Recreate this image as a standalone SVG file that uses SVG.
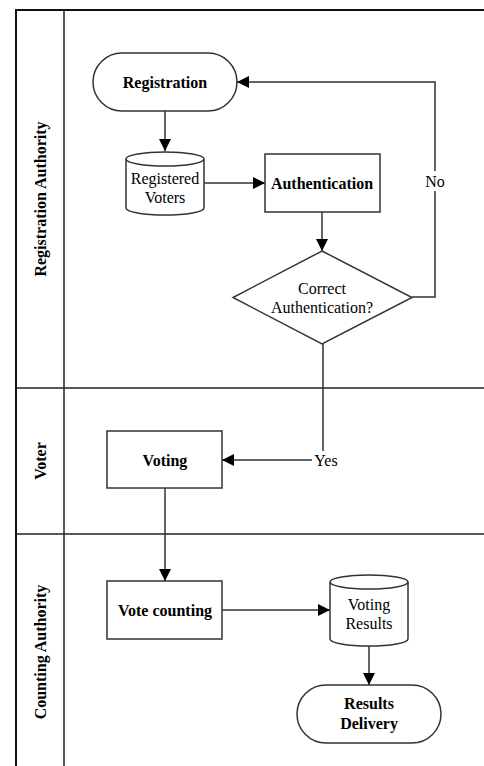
<svg xmlns="http://www.w3.org/2000/svg" width="484" height="766" viewBox="0 0 484 766">
<defs>
<marker id="arr" markerWidth="12" markerHeight="12" viewBox="0 0 12 12" refX="12" refY="6" orient="auto" markerUnits="userSpaceOnUse">
<path d="M0,0 L12,6 L0,12 Z" fill="#000"/>
</marker>
<style>
.frame{stroke:#111;stroke-width:2;fill:none}
.div{stroke:#222;stroke-width:1.5;fill:none}
.node{fill:#fff;stroke:#333;stroke-width:1.5}
.conn{stroke:#333;stroke-width:1.5;fill:none}
.t{font-family:"Liberation Serif","Times New Roman",serif;font-size:16px;fill:#000;text-anchor:middle;dominant-baseline:central}
.b{font-weight:bold}
.lane{font-family:"Liberation Serif","Times New Roman",serif;font-size:16px;font-weight:bold;fill:#000;text-anchor:middle;dominant-baseline:central}
</style>
</defs>
<rect width="484" height="766" fill="#fff"/>
<g id="lanes">
<path class="frame" d="M16,766 V10 H484"/>
<line class="div" x1="64" y1="10" x2="64" y2="766"/>
<line class="div" x1="16" y1="388" x2="484" y2="388"/>
<line class="div" x1="16" y1="534" x2="484" y2="534"/>
<text class="lane" transform="translate(40,199) rotate(-90)">Registration Authority</text>
<text class="lane" transform="translate(40,461) rotate(-90)">Voter</text>
<text class="lane" transform="translate(40,652) rotate(-90)">Counting Authority</text>
</g>
<g id="connectors">
<line class="conn" x1="165" y1="111" x2="165" y2="151" marker-end="url(#arr)"/>
<line class="conn" x1="204" y1="183" x2="265" y2="183" marker-end="url(#arr)"/>
<line class="conn" x1="322" y1="212" x2="322" y2="251" marker-end="url(#arr)"/>
<polyline class="conn" points="412,297 435,297 435,82 237,82" marker-end="url(#arr)"/>
<polyline class="conn" points="323,344 323,460 222,460" marker-end="url(#arr)"/>
<line class="conn" x1="165" y1="488" x2="165" y2="581" marker-end="url(#arr)"/>
<line class="conn" x1="222" y1="610" x2="330" y2="610" marker-end="url(#arr)"/>
<line class="conn" x1="369" y1="646" x2="369" y2="685" marker-end="url(#arr)"/>
<rect x="424" y="171" width="22" height="20" fill="#fff"/>
<text class="t" x="435" y="181">No</text>
<rect x="312" y="451" width="28" height="18" fill="#fff"/>
<text class="t" x="326" y="460">Yes</text>
</g>
<g id="registration">
<rect class="node" x="93" y="53" width="144" height="58" rx="29" ry="29"/>
<text class="t b" x="165" y="82">Registration</text>
</g>
<g id="registered-voters">
<path class="node" d="M126,159 A39,7 0 0 1 204,159 V208 A39,7 0 0 1 126,208 Z"/>
<path class="node" d="M126,159 A39,7 0 0 0 204,159" fill="none"/>
<text class="t" x="165" y="178">Registered</text>
<text class="t" x="165" y="197">Voters</text>
</g>
<g id="authentication">
<rect class="node" x="265" y="154" width="115" height="58"/>
<text class="t b" x="322" y="183">Authentication</text>
</g>
<g id="correct-authentication">
<polygon class="node" points="322,251 412,297.5 322,344 233,297.5"/>
<text class="t" x="322" y="288">Correct</text>
<text class="t" x="322" y="307">Authentication?</text>
</g>
<g id="voting">
<rect class="node" x="107" y="431" width="115" height="57"/>
<text class="t b" x="165" y="460">Voting</text>
</g>
<g id="vote-counting">
<rect class="node" x="107" y="581" width="115" height="58"/>
<text class="t b" x="165" y="610">Vote counting</text>
</g>
<g id="voting-results">
<path class="node" d="M330,582 A39,7 0 0 1 408,582 V639 A39,7 0 0 1 330,639 Z"/>
<path class="node" d="M330,582 A39,7 0 0 0 408,582" fill="none"/>
<text class="t" x="369" y="604">Voting</text>
<text class="t" x="369" y="623">Results</text>
</g>
<g id="results-delivery">
<rect class="node" x="297" y="685" width="144" height="58" rx="29" ry="29"/>
<text class="t b" x="369" y="703">Results</text>
<text class="t b" x="369" y="723">Delivery</text>
</g>
</svg>
